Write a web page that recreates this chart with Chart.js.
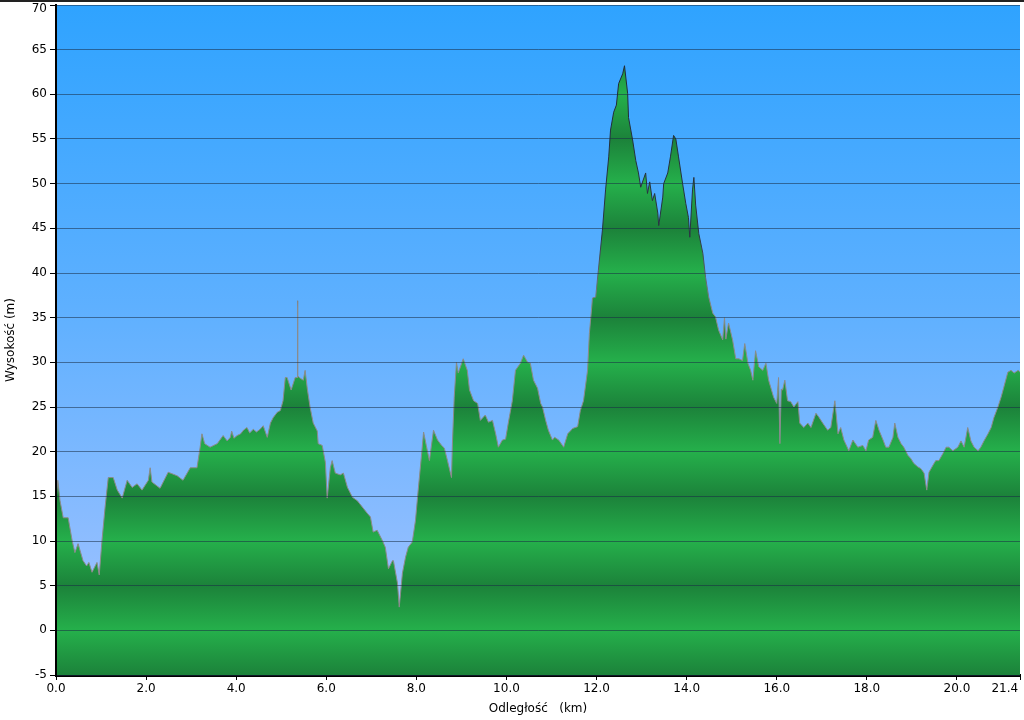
<!DOCTYPE html>
<html>
<head>
<meta charset="utf-8">
<script src="https://cdn.jsdelivr.net/npm/chart.js@4.4.1/dist/chart.umd.min.js"></script>
<style>
  html, body { margin: 0; padding: 0; background: #fff; }
  #wrap { width: 1024px; height: 720px; }
</style>
</head>
<body>
<div id="wrap"><canvas id="profileChart" width="1024" height="720"></canvas></div>
<script>
// Profil wysokości trasy - odległość (km) / wysokość (m)
const distances = [
  0.00, 0.04, 0.09, 0.16, 0.27, 0.36, 0.42, 0.49, 0.60, 0.68, 0.73, 0.80, 0.91, 0.96, 1.02, 1.09,
  1.16, 1.27, 1.36, 1.47, 1.58, 1.69, 1.80, 1.91, 2.05, 2.09, 2.13, 2.31, 2.49, 2.69, 2.82, 2.98,
  3.13, 3.20, 3.24, 3.30, 3.36, 3.42, 3.58, 3.71, 3.80, 3.87, 3.90, 3.95, 4.02, 4.10, 4.16, 4.24,
  4.30, 4.38, 4.45, 4.53, 4.60, 4.69, 4.76, 4.82, 4.91, 4.98, 5.04, 5.09, 5.13, 5.22, 5.31, 5.35,
  5.36, 5.37, 5.40, 5.49, 5.53, 5.58, 5.64, 5.71, 5.80, 5.82, 5.91, 5.98, 6.02, 6.09, 6.13, 6.20,
  6.31, 6.38, 6.47, 6.58, 6.69, 6.80, 6.91, 6.98, 7.04, 7.13, 7.24, 7.31, 7.38, 7.47, 7.49, 7.58,
  7.62, 7.69, 7.76, 7.82, 7.91, 7.98, 8.04, 8.11, 8.16, 8.22, 8.29, 8.38, 8.47, 8.56, 8.62, 8.69,
  8.78, 8.80, 8.84, 8.89, 8.93, 9.04, 9.13, 9.18, 9.27, 9.36, 9.42, 9.53, 9.60, 9.69, 9.76, 9.82,
  9.91, 9.98, 10.04, 10.13, 10.20, 10.31, 10.38, 10.47, 10.53, 10.60, 10.69, 10.76, 10.80, 10.87, 10.93, 11.02,
  11.07, 11.16, 11.27, 11.36, 11.47, 11.58, 11.64, 11.71, 11.80, 11.84, 11.91, 11.98, 12.04, 12.13, 12.20, 12.27,
  12.31, 12.38, 12.44, 12.49, 12.58, 12.62, 12.69, 12.71, 12.80, 12.87, 12.93, 12.98, 13.09, 13.13, 13.18, 13.24,
  13.29, 13.36, 13.38, 13.47, 13.49, 13.58, 13.64, 13.71, 13.76, 13.82, 13.91, 13.98, 14.04, 14.07, 14.13, 14.16,
  14.20, 14.27, 14.36, 14.42, 14.49, 14.58, 14.64, 14.71, 14.80, 14.84, 14.87, 14.93, 15.02, 15.09, 15.16, 15.24,
  15.29, 15.36, 15.42, 15.47, 15.53, 15.60, 15.69, 15.76, 15.82, 15.93, 16.00, 16.04, 16.07, 16.10, 16.13, 16.18,
  16.24, 16.31, 16.38, 16.47, 16.51, 16.60, 16.69, 16.76, 16.87, 16.93, 17.02, 17.13, 17.20, 17.29, 17.36, 17.42,
  17.49, 17.60, 17.69, 17.80, 17.91, 17.98, 18.04, 18.13, 18.20, 18.27, 18.36, 18.42, 18.49, 18.58, 18.62, 18.69,
  18.76, 18.82, 18.91, 18.98, 19.04, 19.13, 19.20, 19.27, 19.33, 19.38, 19.47, 19.53, 19.60, 19.69, 19.76, 19.82,
  19.91, 20.02, 20.09, 20.16, 20.24, 20.31, 20.38, 20.47, 20.53, 20.60, 20.69, 20.76, 20.82, 20.91, 20.98, 21.04,
  21.13, 21.20, 21.27, 21.36, 21.40
];
const elevations = [
  14.5, 16.8, 14.5, 12.6, 12.6, 10.0, 8.7, 9.7, 7.8, 7.2, 7.6, 6.5, 7.6, 6.2, 10.0, 13.8,
  17.1, 17.1, 15.7, 14.8, 16.8, 16.0, 16.4, 15.7, 16.8, 18.2, 16.6, 15.9, 17.7, 17.3, 16.8, 18.2,
  18.2, 20.5, 22.0, 20.9, 20.7, 20.5, 20.9, 21.8, 21.2, 21.6, 22.3, 21.5, 21.8, 22.0, 22.4, 22.7,
  22.1, 22.5, 22.2, 22.5, 22.9, 21.6, 23.2, 23.8, 24.4, 24.6, 25.7, 28.3, 28.3, 26.9, 28.3, 28.3,
  36.9, 28.5, 28.3, 28.0, 29.1, 27.0, 25.0, 23.2, 22.3, 20.9, 20.7, 18.8, 14.8, 18.2, 19.0, 17.6,
  17.4, 17.6, 16.0, 14.9, 14.5, 13.8, 13.1, 12.7, 11.0, 11.2, 10.1, 9.3, 6.9, 7.8, 7.8, 5.3,
  2.6, 6.4, 8.2, 9.3, 9.9, 12.3, 15.7, 19.4, 22.2, 20.7, 19.0, 22.4, 21.3, 20.7, 20.4, 19.0,
  17.1, 20.9, 26.1, 30.0, 28.8, 30.4, 29.1, 26.9, 25.7, 25.4, 23.5, 24.1, 23.3, 23.5, 22.0, 20.5,
  21.3, 21.4, 23.2, 25.7, 29.1, 29.9, 30.8, 30.0, 29.9, 28.0, 27.1, 25.4, 25.0, 23.5, 22.4, 21.3,
  21.6, 21.3, 20.5, 22.0, 22.6, 22.8, 24.6, 25.7, 29.1, 33.2, 37.2, 37.3, 40.3, 44.8, 49.3, 53.0,
  56.0, 58.0, 58.8, 61.2, 62.3, 63.2, 60.1, 57.4, 54.9, 52.6, 51.2, 49.6, 51.2, 48.9, 50.2, 48.1,
  48.9, 46.7, 45.3, 48.5, 50.0, 51.2, 53.0, 55.4, 55.0, 53.0, 50.0, 47.8, 46.2, 44.0, 49.3, 50.7,
  47.6, 44.4, 42.2, 39.5, 37.3, 35.5, 35.1, 33.6, 32.5, 35.0, 32.6, 34.4, 32.5, 30.4, 30.4, 30.2,
  32.1, 29.9, 29.1, 28.0, 31.3, 29.5, 29.1, 29.9, 28.0, 26.1, 25.4, 28.3, 20.9, 27.0, 26.9, 28.0,
  25.7, 25.6, 25.0, 25.6, 23.2, 22.7, 23.2, 22.7, 24.3, 23.9, 23.2, 22.4, 22.7, 25.7, 22.0, 22.7,
  21.3, 20.1, 21.3, 20.5, 20.7, 20.1, 21.3, 21.6, 23.5, 22.4, 21.3, 20.5, 20.5, 21.6, 23.2, 21.6,
  20.9, 20.5, 19.6, 19.2, 18.7, 18.3, 18.1, 17.6, 15.7, 17.7, 18.5, 19.0, 19.0, 19.8, 20.5, 20.5,
  20.1, 20.5, 21.2, 20.5, 22.7, 21.2, 20.5, 20.1, 20.5, 21.2, 22.0, 22.7, 23.8, 25.0, 26.1, 27.2,
  28.9, 29.1, 28.8, 29.1, 28.9
];
const yTickValues = [-5, 0, 5, 10, 15, 20, 25, 30, 35, 40, 45, 50, 55, 60, 65, 70];
const xTickValues = [0, 2, 4, 6, 8, 10, 12, 14, 16, 18, 20, 21.4];

const skyTop = '#2fa3ff';
const skyMid = '#5eb0ff';
const skyBottom = '#a8c4ff';
const greenLight = '#25b04b';
const greenDark = '#1c823a';
const axisFont = { family: 'DejaVu Sans', size: 12 };
const topLabelFont = { family: 'DejaVu Sans', size: 12, lineHeight: 0.6 };

// blue sky behind the plot + thin frame line at the top
const skyBackground = {
    id: 'skyBackground',
    beforeDraw(chart) {
        const { ctx, chartArea } = chart;
        if (!chartArea) return;
        const g = ctx.createLinearGradient(0, chartArea.top, 0, chartArea.bottom);
        g.addColorStop(0, skyTop);
        g.addColorStop(0.45, skyMid);
        g.addColorStop(1, skyBottom);
        ctx.save();
        ctx.fillStyle = g;
        ctx.fillRect(chartArea.left, chartArea.top, chartArea.right - chartArea.left, chartArea.bottom - chartArea.top);
        ctx.restore();
    },
    afterDraw(chart) {
        const ctx = chart.ctx;
        ctx.save();
        ctx.strokeStyle = '#222';
        ctx.lineWidth = 2;
        ctx.beginPath();
        ctx.moveTo(0, 1);
        ctx.lineTo(chart.width, 1);
        ctx.stroke();
        ctx.restore();
    }
};

function bandedGreen(context) {
    const chart = context.chart;
    const { ctx, chartArea, scales } = chart;
    if (!chartArea) return greenLight;
    const h = chartArea.bottom - chartArea.top;
    const g = ctx.createLinearGradient(0, chartArea.top, 0, chartArea.bottom);
    yTickValues.forEach(v => {
        const pos = (scales.y.getPixelForValue(v) - chartArea.top) / h;
        g.addColorStop(Math.min(1, Math.max(0, pos)), (v / 5) % 2 ? greenDark : greenLight);
    });
    return g;
}

function lineShade(context) {
    const chart = context.chart;
    const { ctx, chartArea, scales } = chart;
    if (!chartArea) return '#888';
    const h = chartArea.bottom - chartArea.top;
    const g = ctx.createLinearGradient(0, chartArea.top, 0, chartArea.bottom);
    g.addColorStop(0, '#1c2633');
    g.addColorStop((scales.y.getPixelForValue(44) - chartArea.top) / h, '#2a3540');
    g.addColorStop((scales.y.getPixelForValue(36) - chartArea.top) / h, '#8a8a8a');
    g.addColorStop(1, '#8a8a8a');
    return g;
}

const points = distances.map((d, i) => ({ x: d, y: elevations[i] }));
const lastX = xTickValues[xTickValues.length - 1];
const topY = yTickValues[yTickValues.length - 1];

new Chart(document.getElementById('profileChart'), {
    type: 'line',
    data: {
        datasets: [{
            label: 'Wysokość',
            data: points,
            fill: 'start',
            backgroundColor: bandedGreen,
            borderColor: lineShade,
            borderWidth: 1,
            pointRadius: 0,
            tension: 0
        }]
    },
    options: {
        responsive: false,
        animation: false,
        layout: { padding: { top: 5, right: 4, left: 0, bottom: 0 } },
        plugins: {
            legend: { display: false },
            tooltip: { enabled: false }
        },
        scales: {
            x: {
                type: 'linear',
                min: 0,
                max: lastX,
                afterBuildTicks: scale => { scale.ticks = xTickValues.map(v => ({ value: v })); },
                afterFit: scale => {
                    scale.height = 45;
                    scale.paddingLeft = 0;
                    scale.paddingRight = 0;
                },
                ticks: {
                    autoSkip: false,
                    maxRotation: 0,
                    padding: 2,
                    color: '#000',
                    font: axisFont,
                    // last label sits left of its tick, like in the original
                    callback: v => v === lastX ? Number(v).toFixed(1) + '        ' : Number(v).toFixed(1)
                },
                grid: { drawOnChartArea: false, drawTicks: true, tickLength: 5, tickColor: '#000' },
                border: { display: true, color: '#000', width: 3 },
                title: { display: true, text: 'Odległość   (km)', color: '#000', font: axisFont, padding: { top: 2, bottom: 4 } }
            },
            y: {
                min: -5,
                max: topY,
                afterFit: scale => {
                    scale.width = 56;
                    scale.paddingTop = 0;
                    scale.paddingBottom = 0;
                },
                afterBuildTicks: scale => { scale.ticks = yTickValues.map(v => ({ value: v })); },
                ticks: {
                    color: '#000',
                    padding: 3,
                    font: ctx => (ctx.tick && ctx.tick.value === topY) ? topLabelFont : axisFont,
                    callback: v => v === topY ? ['', String(v)] : String(v)
                },
                grid: { color: 'rgba(25, 45, 70, 0.55)', lineWidth: 1, tickLength: 6, tickColor: '#000', z: 1 },
                border: { display: true, color: '#000', width: 2, z: 2 },
                title: { display: true, text: 'Wysokość (m)', color: '#000', font: axisFont, padding: { top: 4, bottom: 4 } }
            }
        }
    },
    plugins: [skyBackground]
});
</script>
</body>
</html>
